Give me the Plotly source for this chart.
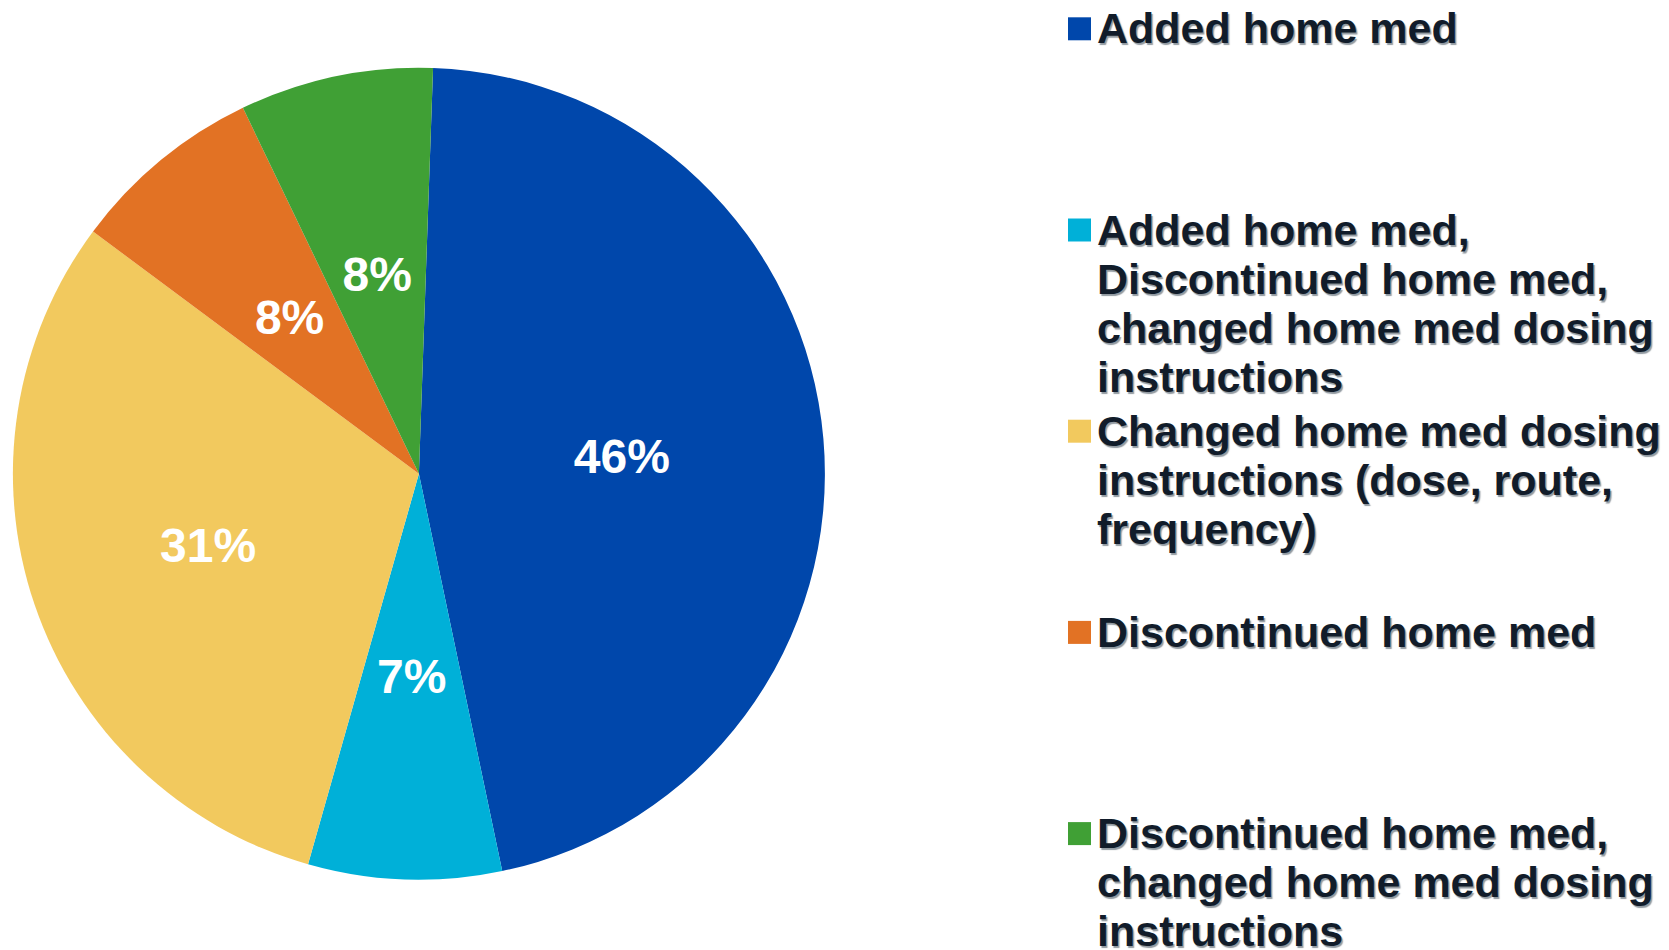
import plotly.graph_objects as go

# ---- data ----
categories = [
    "Added home med",
    "Added home med,<br>Discontinued home med,<br>changed home med dosing<br>instructions",
    "Changed home med dosing<br>instructions (dose, route,<br>frequency)",
    "Discontinued home med",
    "Discontinued home med,<br>changed home med dosing<br>instructions",
]
counts = [6, 1, 4, 1, 1]          # slice sizes (out of 13)
pct_labels = ["46%", "7%", "31%", "8%", "8%"]   # labels printed on slices
colors = ["#0047AB", "#00B0D8", "#F2C95E", "#E27224", "#40A035"]

W, H = 1669, 950
OFF = 8  # page body margin offset (px)
FONT = "Liberation Sans, Arial, sans-serif"
TEXT_COLOR = "#111C2A"

# pie geometry in screen px
cx, cy, r = 418.9 - OFF, 473.7 - OFF, 406


def domain(rad):
    return dict(x=[(cx - rad) / W, (cx + rad) / W],
                y=[(H - (cy + rad)) / H, (H - (cy - rad)) / H])


small = [c <= 1 for c in counts]
big_text = [("" if s else t) for s, t in zip(small, pct_labels)]
small_text = [(t if s else "") for s, t in zip(small, pct_labels)]
label_font = dict(family=FONT, size=48, color="white", weight="bold")
pie_common = dict(
    labels=[c.replace("<br>", " ") for c in categories],
    values=counts, sort=False, direction="clockwise", rotation=2,
    showlegend=False, textinfo="text", textposition="inside",
    insidetextorientation="horizontal", insidetextfont=label_font,
)

fig = go.Figure()
fig.add_trace(go.Pie(
    text=big_text,
    marker=dict(colors=colors, line=dict(width=0)),
    hoverinfo="label+percent",
    domain=domain(r),
    **pie_common,
))
# transparent overlay pie that carries the labels of the narrow slices,
# so they sit at mid-radius like in the original
fig.add_trace(go.Pie(
    text=small_text,
    marker=dict(colors=["rgba(0,0,0,0)"] * len(counts), line=dict(width=0)),
    hoverinfo="skip",
    domain=domain(r * 0.62),
    **pie_common,
))

# ---- custom legend (symbol aligned with first line of each label) ----
first_line_y = 16.3    # px from top, first item
item_pitch = 201.2     # px between items
line_step = 49         # px between lines
text_x = 1087
sq_x0, sq_size = 1060, 23

shapes = []
annotations = []
for i, (cat, col) in enumerate(zip(categories, colors)):
    y0 = first_line_y + i * item_pitch
    shapes.append(dict(
        type="rect", xref="paper", yref="paper",
        x0=sq_x0 / W, x1=(sq_x0 + sq_size) / W,
        y0=1 - (y0 + 4.5 - sq_size / 2) / H, y1=1 - (y0 + 4.5 + sq_size / 2) / H,
        fillcolor=col, line=dict(width=0),
    ))
    for j, line in enumerate(cat.split("<br>")):
        yy = y0 + j * line_step
        annotations.append(dict(
            text=line, xref="paper", yref="paper",
            x=text_x / W, y=1 - (yy + 4) / H,
            xanchor="left", yanchor="middle", showarrow=False,
            font=dict(family=FONT, size=43, color=TEXT_COLOR, weight="bold",
                      shadow="1.5px 1.5px 1px rgba(110,120,130,0.75)"),
        ))

fig.update_layout(
    width=W, height=H,
    margin=dict(l=0, r=0, t=0, b=0),
    paper_bgcolor="white", plot_bgcolor="white",
    shapes=shapes, annotations=annotations,
)

fig.write_html("out.html")
